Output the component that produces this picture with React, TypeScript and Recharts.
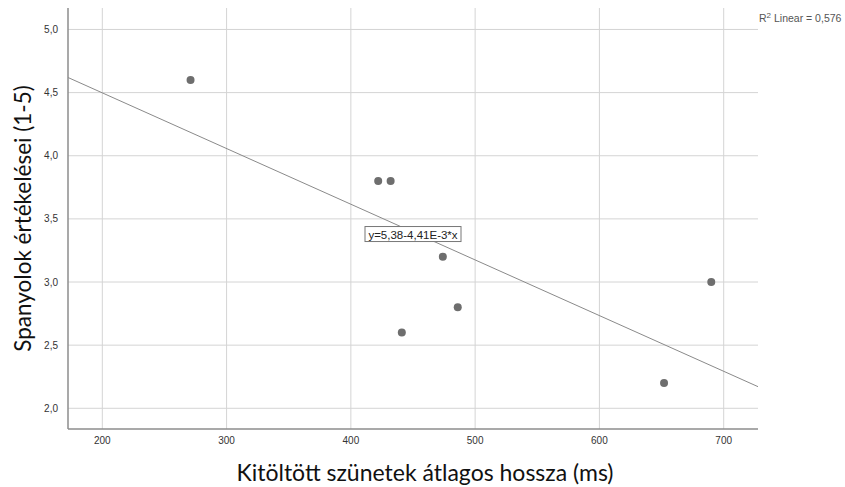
import React from 'react';
import { ScatterChart, Scatter, XAxis, YAxis, ReferenceLine, ReferenceDot } from 'recharts';

const pauseMs = [271, 422, 432, 441, 474, 486, 652, 690];
const ratings = [4.6, 3.8, 3.8, 2.6, 3.2, 2.8, 2.2, 3.0];
const xTicks = [200, 300, 400, 500, 600, 700];
const yTicks = [2.0, 2.5, 3.0, 3.5, 4.0, 4.5, 5.0];
const xDomain = [172.4, 727.6];
const yDomain = [1.836, 5.17];
const fitCoefficients = [5.38, -0.00441]; // intercept, slope
const fitLabel = 'y=5,38-4,41E-3*x';
const fitLabelAt = [450, 3.38];
const rSquaredValue = '0,576';
const xTitle = 'Kitöltött szünetek átlagos hossza (ms)';
const yTitle = 'Spanyolok értékelései (1-5)';

const data = pauseMs.map((x, i) => ({ x, y: ratings[i] }));
const fitSegment = xDomain.map((x) => ({ x, y: fitCoefficients[0] + fitCoefficients[1] * x }));

const tickFont = { fontFamily: 'Liberation Sans, Arial, sans-serif', fontSize: 10, fill: '#333' };
const titleFont = 'Lato, "Open Sans", sans-serif';
const gridColor = '#d4d4d4';

const YTitle = (props: any) => {
  const vb = props.viewBox || { x: 0, y: 8, width: 68, height: 421 };
  const cx = vb.x + 22;
  const cy = vb.y + vb.height / 2;
  return (
    <text x={cx} y={cy} transform={`rotate(-90, ${cx}, ${cy})`} textAnchor="middle" dominantBaseline="central"
      fontFamily={titleFont} fontSize={22.5} fill="#111">{yTitle}</text>
  );
};

const XTitle = (props: any) => {
  const vb = props.viewBox || { x: 68, y: 429, width: 690, height: 58 };
  const right = vb.x + vb.width;
  return (
    <g>
      <text x={425} y={vb.y + 43} textAnchor="middle" dominantBaseline="central"
        fontFamily={titleFont} fontSize={23} fill="#111">{xTitle}</text>
      <text x={right + 1} y={22} fontFamily="Liberation Sans, Arial, sans-serif" fontSize={10.5} fill="#555">
        R<tspan dy={-4} fontSize={8}>2</tspan><tspan dy={4}>{` Linear = ${rSquaredValue}`}</tspan>
      </text>
    </g>
  );
};

const FitBox = (props: any) => {
  const vb = props.viewBox || { x: 0, y: 0, width: 0, height: 0 };
  const cx = vb.x + (vb.width || 0) / 2;
  const cy = vb.y + (vb.height || 0) / 2;
  const w = 96;
  const h = 15;
  return (
    <g>
      <rect x={cx - w / 2} y={cy - h / 2} width={w} height={h} fill="#fff" stroke="#777" strokeWidth={1} />
      <text x={cx} y={cy + 0.5} textAnchor="middle" dominantBaseline="central"
        fontFamily="Liberation Sans, Arial, sans-serif" fontSize={11.5} fill="#222">{fitLabel}</text>
    </g>
  );
};

const Dot = (props: any) => <circle cx={props.cx} cy={props.cy} r={4} fill="#6e6e6e" />;

const fmt = (v: number) => v.toFixed(1).replace('.', ',');

export default function App() {
  return (
    <div style={{ position: 'absolute', left: 0, top: 0, width: 845, height: 487, background: '#fff' }}>
      <ScatterChart width={845} height={487} margin={{ top: 8, right: 87, bottom: 0, left: 0 }}>
        {xTicks.map((t) => (
          <ReferenceLine key={`gx${t}`} x={t} stroke={gridColor} strokeWidth={1} />
        ))}
        {yTicks.map((t) => (
          <ReferenceLine key={`gy${t}`} y={t} stroke={gridColor} strokeWidth={1} />
        ))}
        <XAxis type="number" dataKey="x" domain={xDomain} ticks={xTicks} height={58}
          tickLine={false} tickSize={0} tickMargin={8} axisLine={{ stroke: '#8c8c8c', strokeWidth: 1.5 }}
          tick={tickFont} label={<XTitle />} />
        <YAxis type="number" dataKey="y" domain={yDomain} ticks={yTicks} width={68}
          tickLine={false} tickSize={0} tickMargin={10} axisLine={{ stroke: '#8c8c8c', strokeWidth: 1.5 }}
          tick={tickFont} tickFormatter={fmt} label={<YTitle />} />
        <ReferenceLine segment={fitSegment} stroke="#8a8a8a" strokeWidth={1} ifOverflow="extendDomain" />
        <Scatter data={data} shape={<Dot />} isAnimationActive={false} />
        <ReferenceDot x={fitLabelAt[0]} y={fitLabelAt[1]} r={0} stroke="none" fill="none" label={<FitBox />} />
      </ScatterChart>
    </div>
  );
}
